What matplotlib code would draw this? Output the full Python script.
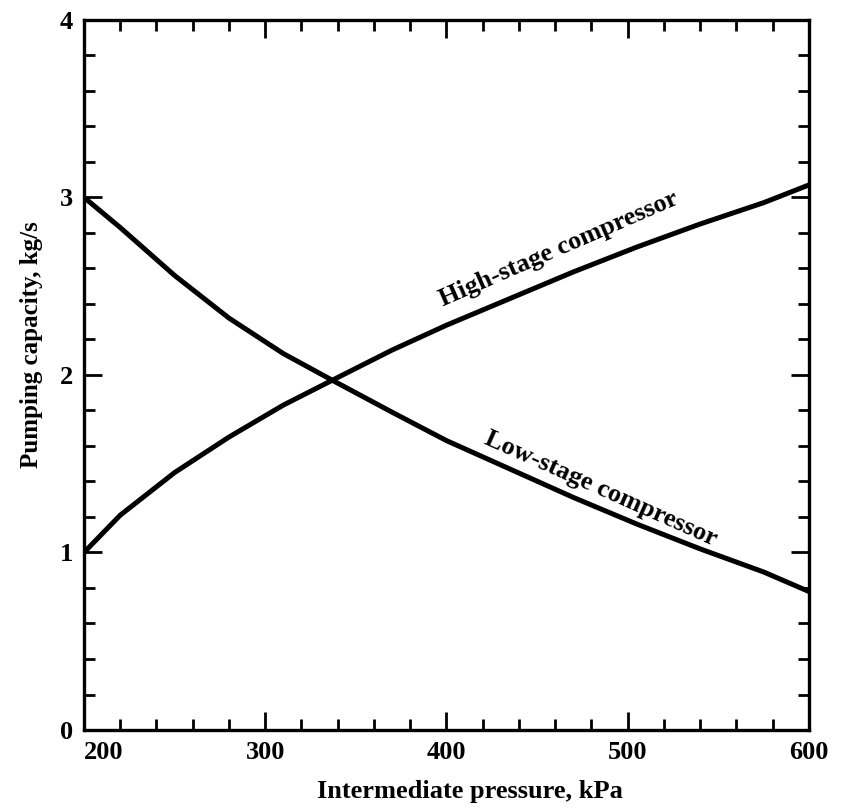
import matplotlib.pyplot as plt
from matplotlib.ticker import MultipleLocator

plt.rcParams['font.family'] = ['Liberation Serif', 'DejaVu Serif']
plt.rcParams['font.weight'] = 'bold'

# values
pressure = [200, 220, 250, 280, 310, 337, 370, 400, 435, 470, 505, 540, 575, 600]
high_stage = [1.00, 1.21, 1.45, 1.65, 1.83, 1.97, 2.14, 2.28, 2.43, 2.58, 2.72, 2.85, 2.97, 3.07]
low_stage = [3.00, 2.83, 2.56, 2.32, 2.12, 1.97, 1.79, 1.63, 1.47, 1.31, 1.16, 1.02, 0.89, 0.78]

x_ticks = [200, 300, 400, 500, 600]
y_ticks = [0, 1, 2, 3, 4]

fig = plt.figure(figsize=(8.44, 8.08), dpi=100)
ax = fig.add_axes([0.0995, 0.0965, 0.859, 0.879])

ax.plot(pressure, high_stage, color='black', lw=3.6, solid_capstyle='butt')
ax.plot(pressure, low_stage, color='black', lw=3.6, solid_capstyle='butt')

ax.set_xlim(200, 600)
ax.set_ylim(0, 4)
ax.set_xticks(x_ticks)
ax.set_yticks(y_ticks)
ax.xaxis.set_minor_locator(MultipleLocator(20))
ax.yaxis.set_minor_locator(MultipleLocator(0.2))
ax.tick_params(which='both', direction='in', top=True, right=True, width=2, colors='black')
ax.tick_params(which='major', length=13, labelsize=19, pad=8)
ax.tick_params(which='minor', length=8)
for sp in ax.spines.values():
    sp.set_linewidth(2.4)

lbls = ax.get_xticklabels()
lbls[0].set_horizontalalignment('left')

ax.set_xlabel('Intermediate pressure, kPa', fontsize=19, fontweight='bold')
ax.set_ylabel('Pumping capacity, kg/s', fontsize=18, fontweight='bold')
ax.xaxis.set_label_coords(0.532, -0.07)
ax.yaxis.set_label_coords(-0.057, 0.542)

ax.text(462, 2.71, 'High-stage compressor', rotation=23.5, ha='center', va='center',
        fontsize=19, fontweight='bold', rotation_mode='anchor')
ax.text(485, 1.36, 'Low-stage compressor', rotation=-24, ha='center', va='center',
        fontsize=19, fontweight='bold', rotation_mode='anchor')

plt.savefig('out.png', dpi=100)
